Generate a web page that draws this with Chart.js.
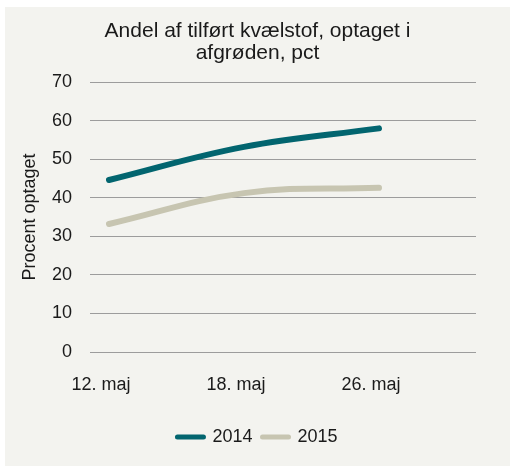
<!DOCTYPE html>
<html>
<head>
<meta charset="utf-8">
<script src="https://cdn.jsdelivr.net/npm/chart.js@4/dist/chart.umd.min.js"></script>
<style>
  body { margin: 0; background: #ffffff; }
  #wrap { position: absolute; left: 5px; top: 7px; width: 505px; height: 459px; background: #f3f3ef; }
</style>
</head>
<body>
<div id="wrap"><canvas id="chart" width="505" height="459"></canvas></div>
<script>
// Chart data
const categories = ['12. maj', '18. maj', '26. maj'];
const values2014 = [44.6, 53.2, 58.0];
const values2015 = [33.2, 41.2, 42.6];
const yTicks = [0, 10, 20, 30, 40, 50, 60, 70];

const teal = '#02656f';
const tan = '#c7c5b1';
const font = 'Liberation Sans, Arial, sans-serif';

// linear x scale so the points can sit away from the plot edges
function toPoints(values) {
    return values.map((v, i) => ({ x: i, y: v }));
}

const ctx = document.getElementById('chart').getContext('2d');

new Chart(ctx, {
    type: 'line',
    data: {
        datasets: [{
            label: '2014',
            data: toPoints(values2014),
            borderColor: teal,
            backgroundColor: teal,
            borderWidth: 6,
            borderCapStyle: 'round',
            pointRadius: 0,
            tension: 0.4
        }, {
            label: '2015',
            data: toPoints(values2015),
            borderColor: tan,
            backgroundColor: tan,
            borderWidth: 6,
            borderCapStyle: 'round',
            pointRadius: 0,
            tension: 0.4
        }]
    },
    options: {
        responsive: false,
        animation: false,
        layout: {
            padding: { left: 0, right: 0, top: 0, bottom: 10 }
        },
        plugins: {
            title: {
                display: true,
                text: ['Andel af tilført kvælstof, optaget i', 'afgrøden, pct'],
                color: '#1a1a1a',
                font: { family: font, size: 21, weight: 'normal', lineHeight: 1.05 },
                padding: { top: 13, bottom: 18 }
            },
            legend: {
                position: 'bottom',
                labels: {
                    color: '#1a1a1a',
                    font: { family: font, size: 18 },
                    usePointStyle: true,
                    pointStyle: 'line',
                    pointStyleWidth: 26,
                    boxHeight: 5,
                    padding: 10,
                    generateLabels: function(chart) {
                        const items = Chart.defaults.plugins.legend.labels.generateLabels(chart);
                        items.forEach(item => { item.lineWidth = 5; item.lineCap = 'round'; });
                        return items;
                    }
                }
            },
            tooltip: { enabled: false }
        },
        scales: {
            x: {
                type: 'linear',
                min: -0.1407,
                max: 2.7185,
                afterBuildTicks: function(scale) {
                    scale.ticks = categories.map((c, i) => ({ value: i }));
                },
                afterFit: function(scale) { scale.height = 66; },
                grid: { display: false },
                border: { display: false },
                ticks: {
                    color: '#1a1a1a',
                    font: { family: font, size: 18 },
                    padding: 14,
                    labelOffset: -8,
                    maxRotation: 0,
                    callback: function(value) { return categories[value]; }
                }
            },
            y: {
                min: 0,
                max: 70,
                afterBuildTicks: function(scale) {
                    scale.ticks = yTicks.map(v => ({ value: v }));
                },
                afterFit: function(scale) { scale.width = 85; },
                border: { display: false },
                grid: { color: '#9c9c9c', lineWidth: 1, drawTicks: false },
                title: {
                    display: true,
                    text: 'Procent optaget',
                    color: '#1a1a1a',
                    font: { family: font, size: 18 },
                    padding: { top: 14, bottom: 0 }
                },
                ticks: {
                    color: '#1a1a1a',
                    font: { family: font, size: 18 },
                    padding: 18
                }
            },
            // empty axis that only reserves the space right of the plot
            spacer: {
                type: 'linear',
                position: 'right',
                axis: 'y',
                afterFit: function(scale) { scale.width = 34; },
                grid: { display: false },
                border: { display: false },
                ticks: { display: false }
            }
        }
    }
});
</script>
</body>
</html>
